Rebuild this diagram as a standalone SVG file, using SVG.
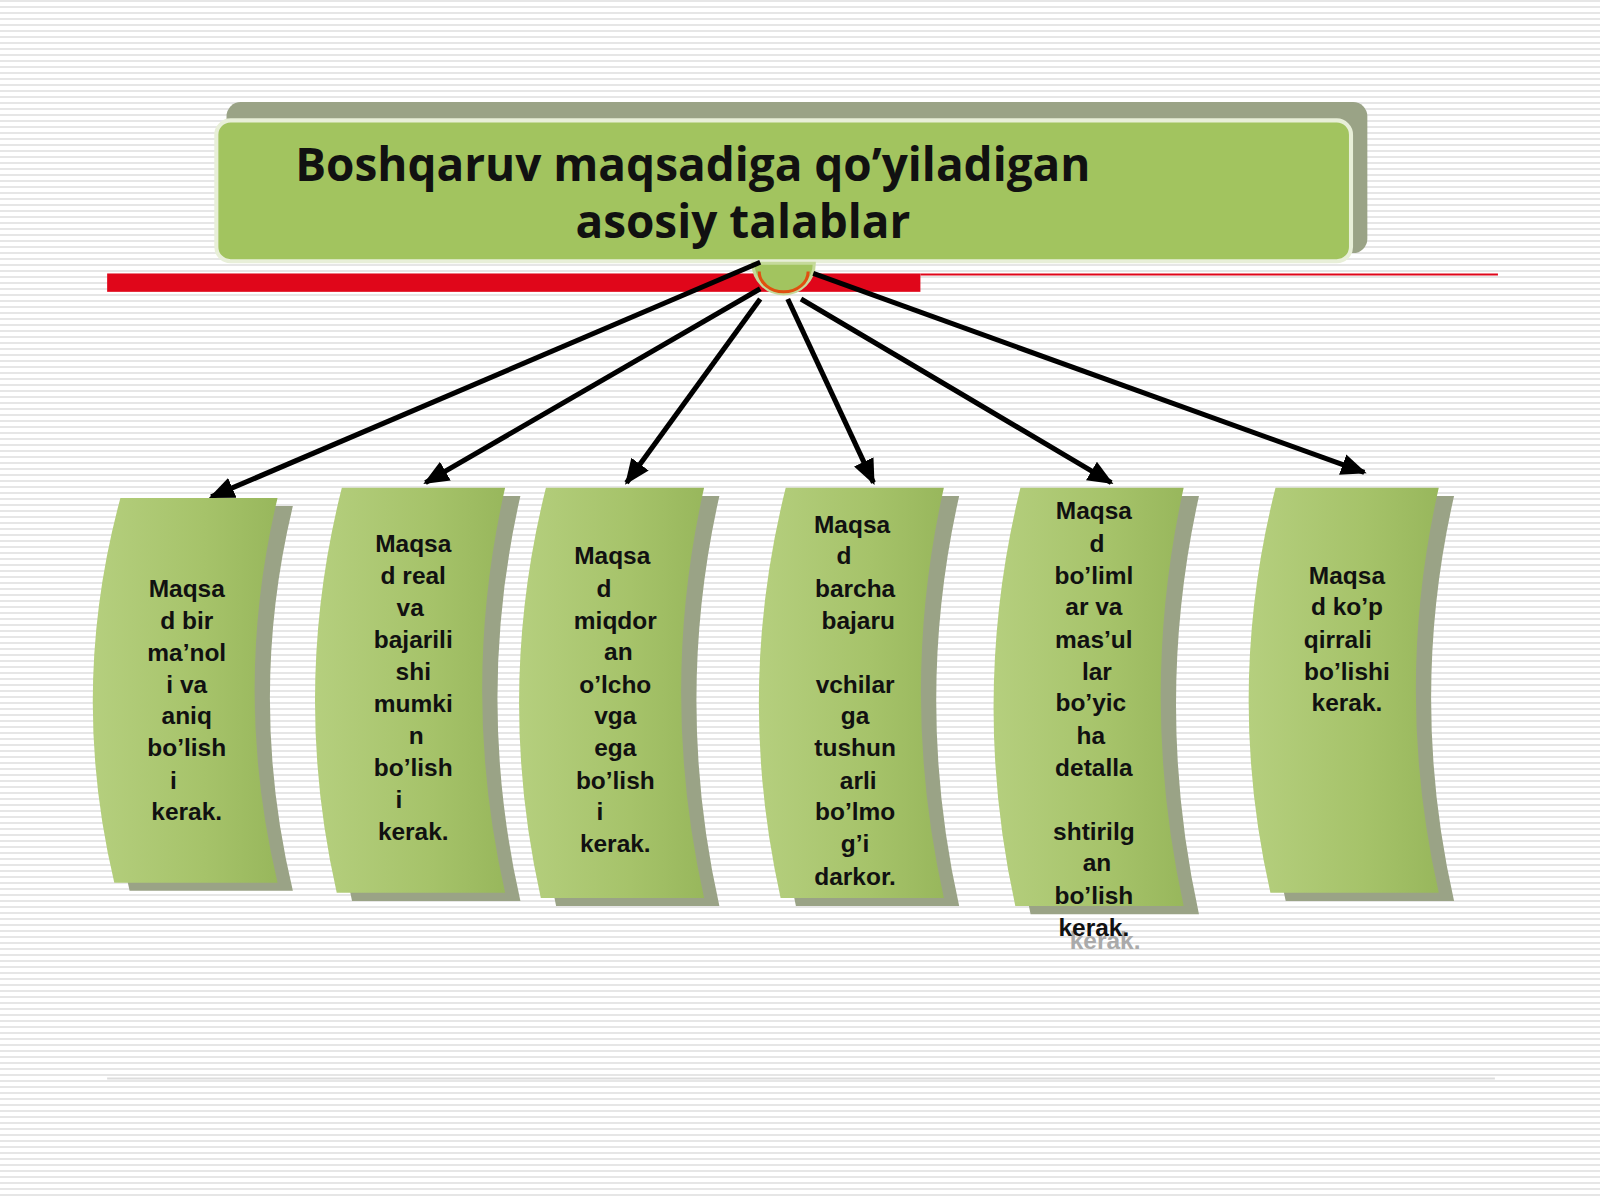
<svg xmlns="http://www.w3.org/2000/svg" width="1600" height="1200" viewBox="0 0 1600 1200">
<defs>
<pattern id="stripes" width="8" height="6" patternUnits="userSpaceOnUse"><rect width="8" height="6" fill="#ffffff"/><rect y="0" width="8" height="2" fill="#e6e6e6"/></pattern>
<linearGradient id="g" x1="0" y1="0" x2="1" y2="0"><stop offset="0" stop-color="#b5cf7e"/><stop offset="0.6" stop-color="#a6c36a"/><stop offset="1" stop-color="#98b75c"/></linearGradient>
<marker id="ah" markerWidth="5" markerHeight="5" refX="4.5" refY="2.5" orient="auto" markerUnits="strokeWidth"><path d="M0,0.4 L5,2.5 L0,4.6 Z" fill="#000"/></marker>
<style>
.t{font-family:"Liberation Sans",Arial,sans-serif;font-weight:bold;font-size:24px;fill:#111;text-anchor:middle}
.h{font-family:"Open Sans","DejaVu Sans",sans-serif;font-weight:bold;font-size:45px;fill:#111;text-anchor:middle}
.sh{fill:#9aa386}
.sc{fill:url(#g)}
.c{stroke:#000;stroke-width:5;fill:none;marker-end:url(#ah)}
</style>
</defs>
<rect width="1600" height="1200" fill="url(#stripes)"/>
<g transform="scale(1.0204)">
<line x1="105" y1="1057" x2="1465" y2="1057" stroke="#ddd" stroke-width="2"/>
<g id="title">
<rect x="222" y="100" width="1118" height="148" rx="14" fill="#9aa386"/>
<rect x="212" y="118" width="1112" height="138" rx="14" fill="#a2c45f" stroke="#e8efd8" stroke-width="4"/>
<text class="h" x="679" y="177">Boshqaruv maqsadiga qo’yiladigan</text>
<text class="h" x="728" y="233">asosiy talablar</text>
</g>
<rect x="105" y="268" width="797" height="18" fill="#e0061a"/>
<line x1="902" y1="269" x2="1468" y2="269" stroke="#e0061a" stroke-width="2"/>
<path d="M738,258 A30,30 0 0 0 798,258 Z" fill="#a2c45f" stroke="#c5da9a" stroke-width="3"/>
<path d="M744,266 A24,20 0 0 0 792,266" fill="none" stroke="#e05010" stroke-width="3"/>
<g id="connectors">
<line class="c" x1="745" y1="257" x2="207" y2="487"/>
<line class="c" x1="745" y1="283" x2="417" y2="473"/>
<line class="c" x1="745" y1="293" x2="614" y2="473"/>
<line class="c" x1="772" y1="293" x2="856" y2="473"/>
<line class="c" x1="785" y1="293" x2="1089" y2="473"/>
<line class="c" x1="797" y1="268" x2="1337" y2="463"/>
</g>
<g id="n1">
<path class="sh" d="M133,496 L287,496 Q242,684 287,873 L127,873 Q82,684 133,496 Z"/>
<path class="sc" d="M118,488 L272,488 Q227,676 272,865 L112,865 Q67,676 118,488 Z"/>
<text class="t" x="183" y="585">Maqsa</text><text class="t" x="183" y="616">d bir</text><text class="t" x="183" y="648">ma’nol</text><text class="t" x="183" y="679">i va</text><text class="t" x="183" y="710">aniq</text><text class="t" x="183" y="741">bo’lish</text><text class="t" x="170" y="773">i</text><text class="t" x="183" y="804">kerak.</text>
</g>
<g id="n2">
<path class="sh" d="M350,486 L510,486 Q465,684 510,883 L345,883 Q300,684 350,486 Z"/>
<path class="sc" d="M335,478 L495,478 Q450,676 495,875 L330,875 Q285,676 335,478 Z"/>
<text class="t" x="405" y="541">Maqsa</text><text class="t" x="405" y="572">d real</text><text class="t" x="402" y="604">va</text><text class="t" x="405" y="635">bajarili</text><text class="t" x="405" y="666">shi</text><text class="t" x="405" y="698">mumki</text><text class="t" x="408" y="729">n</text><text class="t" x="405" y="760">bo’lish</text><text class="t" x="391" y="792">i</text><text class="t" x="405" y="823">kerak.</text>
</g>
<g id="n3">
<path class="sh" d="M550,486 L705,486 Q660,686 705,888 L545,888 Q500,686 550,486 Z"/>
<path class="sc" d="M535,478 L690,478 Q645,678 690,880 L530,880 Q485,678 535,478 Z"/>
<text class="t" x="600" y="553">Maqsa</text><text class="t" x="592" y="585">d</text><text class="t" x="603" y="616">miqdor</text><text class="t" x="606" y="647">an</text><text class="t" x="603" y="679">o’lcho</text><text class="t" x="603" y="710">vga</text><text class="t" x="603" y="741">ega</text><text class="t" x="603" y="773">bo’lish</text><text class="t" x="588" y="804">i</text><text class="t" x="603" y="835">kerak.</text>
</g>
<g id="n4">
<path class="sh" d="M785,486 L940,486 Q895,686 940,888 L780,888 Q735,686 785,486 Z"/>
<path class="sc" d="M770,478 L925,478 Q880,678 925,880 L765,880 Q720,678 770,478 Z"/>
<text class="t" x="835" y="522">Maqsa</text><text class="t" x="827" y="553">d</text><text class="t" x="838" y="585">barcha</text><text class="t" x="841" y="616">bajaru</text><text class="t" x="838" y="679">vchilar</text><text class="t" x="838" y="710">ga</text><text class="t" x="838" y="741">tushun</text><text class="t" x="841" y="773">arli</text><text class="t" x="838" y="804">bo’lmo</text><text class="t" x="838" y="835">g’i</text><text class="t" x="838" y="867">darkor.</text>
</g>
<g id="n5">
<path class="sh" d="M1015,486 L1175,486 Q1130,690 1175,896 L1010,896 Q965,690 1015,486 Z"/>
<path class="sc" d="M1000,478 L1160,478 Q1115,682 1160,888 L995,888 Q950,682 1000,478 Z"/>
<text class="t" x="1083" y="930" style="fill:#aaa">kerak.</text>
<text class="t" x="1072" y="509">Maqsa</text><text class="t" x="1075" y="541">d</text><text class="t" x="1072" y="572">bo’liml</text><text class="t" x="1072" y="603">ar va</text><text class="t" x="1072" y="635">mas’ul</text><text class="t" x="1075" y="666">lar</text><text class="t" x="1069" y="697">bo’yic</text><text class="t" x="1069" y="729">ha</text><text class="t" x="1072" y="760">detalla</text><text class="t" x="1072" y="823">shtirilg</text><text class="t" x="1075" y="854">an</text><text class="t" x="1072" y="886">bo’lish</text><text class="t" x="1072" y="917">kerak.</text>
</g>
<g id="n6">
<path class="sh" d="M1265,486 L1425,486 Q1380,684 1425,883 L1260,883 Q1215,684 1265,486 Z"/>
<path class="sc" d="M1250,478 L1410,478 Q1365,676 1410,875 L1245,875 Q1200,676 1250,478 Z"/>
<text class="t" x="1320" y="572">Maqsa</text><text class="t" x="1320" y="603">d ko’p</text><text class="t" x="1311" y="635">qirrali</text><text class="t" x="1320" y="666">bo’lishi</text><text class="t" x="1320" y="697">kerak.</text>
</g>
</g>
</svg>
